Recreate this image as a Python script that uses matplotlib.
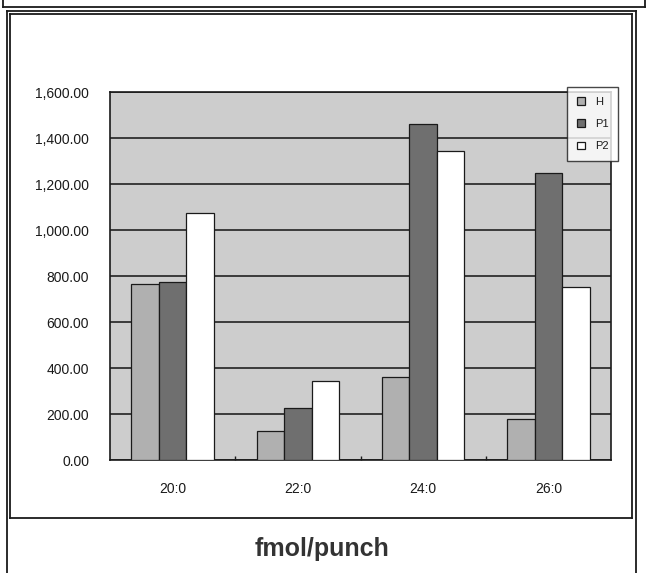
import matplotlib
matplotlib.use("Agg")
import matplotlib.pyplot as plt
from matplotlib.lines import Line2D
import numpy as np

# Data
categories = ["20:0", "22:0", "24:0", "26:0"]
series_names = ["H", "P1", "P2"]
h_values = [765, 125, 360, 180]
p1_values = [775, 226, 1460, 1248]
p2_values = [1074, 343, 1345, 752]
y_ticks = [0, 200, 400, 600, 800, 1000, 1200, 1400, 1600]
title_text = "fmol/punch"

W, H = 649, 573
plt.rcParams["font.family"] = ["Liberation Sans", "DejaVu Sans"]

fig = plt.figure(figsize=(W / 100, H / 100), dpi=100)
fig.patch.set_facecolor("white")


def fx(x):
    return x / W


def fy(y):
    return 1 - y / H


def frame_line(x0, y0, x1, y1, lw=1.3, color="#1a1a1a"):
    fig.add_artist(Line2D([fx(x0), fx(x1)], [fy(y0), fy(y1)],
                          transform=fig.transFigure, color=color, lw=lw))


# strip of the panel above
frame_line(3, 7, 645, 7)
frame_line(3, 0, 3, 7)
frame_line(645, 0, 645, 7)

# outer double frame
frame_line(7, 11, 636, 11)
frame_line(7, 11, 7, 573)
frame_line(636, 11, 636, 573)
frame_line(10, 14, 632, 14)
frame_line(10, 14, 10, 518)
frame_line(632, 14, 632, 518)
frame_line(10, 518, 632, 518)

# plot area
ax = fig.add_axes([fx(110), fy(460), (611 - 110) / W, (460 - 92) / H])
ax.set_facecolor("#cdcdcd")

x = np.arange(len(categories))
bw = 0.22
colors = ["#b0b0b0", "#6f6f6f", "#ffffff"]
values = [h_values, p1_values, p2_values]
handles = []
for i, (vals, col, name) in enumerate(zip(values, colors, series_names)):
    b = ax.bar(x + (i - 1) * bw, vals, width=bw, color=col,
               edgecolor="#1a1a1a", linewidth=0.9, label=name, zorder=3)
    handles.append(b)

ax.set_xlim(-0.5, len(categories) - 0.5)
ax.set_ylim(0, 1600)
ax.set_yticks(y_ticks)
ax.set_yticklabels([f"{v:,.2f}" for v in y_ticks])
ax.set_xticks(x)
ax.set_xticklabels(categories)
ax.set_xticks(np.arange(0.5, len(categories) - 0.5, 1.0), minor=True)
ax.yaxis.grid(True, color="#3a3a3a", lw=1.4, zorder=1)
ax.set_axisbelow(True)
ax.tick_params(axis="y", length=0, pad=15, labelsize=10, labelcolor="#1a1a1a")
ax.tick_params(axis="x", which="major", length=0, pad=16, labelsize=10,
               labelcolor="#1a1a1a")
ax.tick_params(axis="x", which="minor", direction="in", length=3,
               color="#1a1a1a", width=1)
for s in ax.spines.values():
    s.set_color("#1a1a1a")
    s.set_linewidth(1.2)

leg = fig.legend(handles=handles, labels=series_names,
                 loc="upper left", bbox_to_anchor=(fx(567), fy(87)),
                 frameon=True, fancybox=False, fontsize=8,
                 handlelength=0.7, handleheight=0.7, handletextpad=0.9,
                 labelspacing=1.1, borderpad=0.9, borderaxespad=0)
leg.get_frame().set_edgecolor("#1a1a1a")
leg.get_frame().set_linewidth(1.0)
for t in leg.get_texts():
    t.set_color("#1a1a1a")

fig.text(fx(322), fy(549), title_text, ha="center", va="center",
         fontsize=18, fontweight="bold", color="#333333")

fig.savefig("out.png", dpi=100, facecolor="white")
